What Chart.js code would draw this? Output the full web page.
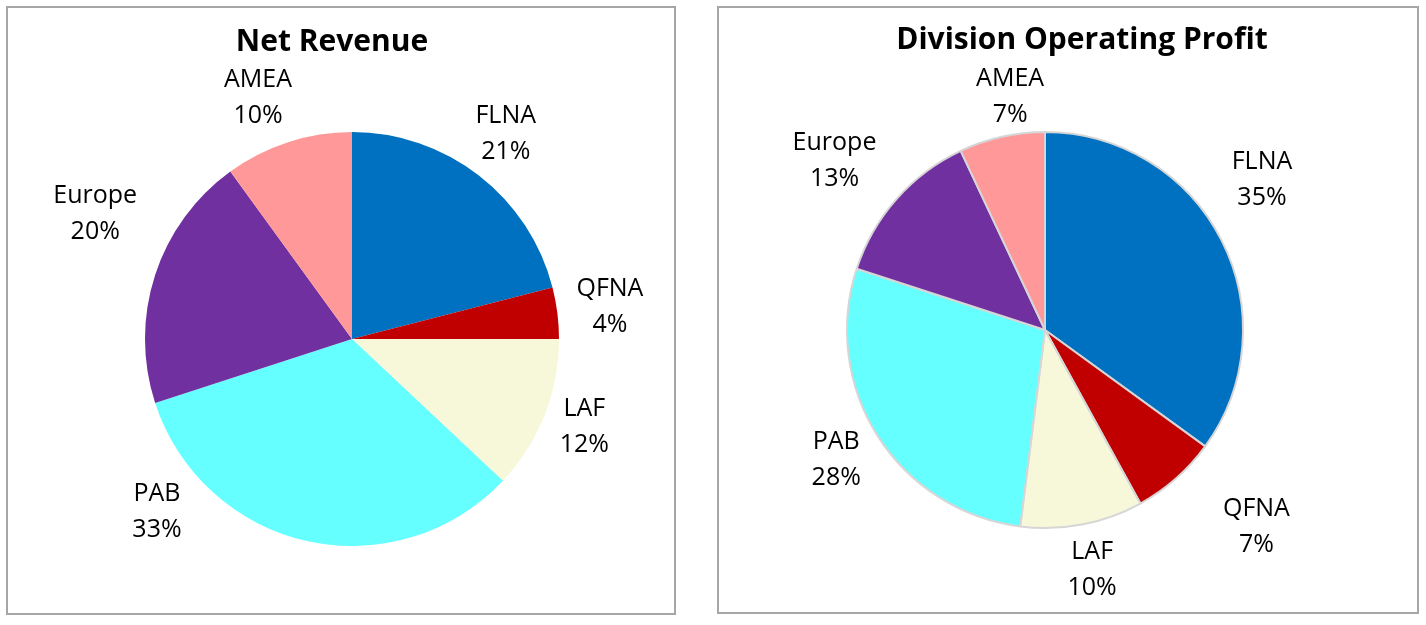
<!DOCTYPE html>
<html>
<head>
<meta charset="utf-8">
<script src="https://cdn.jsdelivr.net/npm/chart.js@4.4.1/dist/chart.umd.min.js"></script>
<style>
  body { margin: 0; background: #fff; }
  .box { position: absolute; box-sizing: border-box; border: 2px solid #a6a6a6; background: #fff; }
  #leftBox { left: 6px; top: 6px; width: 670px; height: 609px; }
  #rightBox { left: 717px; top: 6px; width: 702px; height: 608px; }
  canvas { display: block; }
</style>
</head>
<body>
<div class="box" id="leftBox"><canvas id="revChart" width="666" height="605"></canvas></div>
<div class="box" id="rightBox"><canvas id="profitChart" width="698" height="604"></canvas></div>
<script>
let divisions = ["FLNA", "QFNA", "LAF", "PAB", "Europe", "AMEA"];
let netRevenueShare = [21, 4, 12, 33, 20, 10];
let operatingProfitShare = [35, 7, 10, 28, 13, 7];

let sliceColors = ["#0070C0", "#C00000", "#F7F7DA", "#66FFFF", "#7030A0", "#FF9999"];

// labels sit outside the pie: [angle shift in degrees, distance in radii]
let outLabels = {
  id: "outLabels",
  afterDatasetsDraw(chart, args, opts) {
    let ctx = chart.ctx;
    let values = chart.data.datasets[0].data;
    let total = values.reduce((a, b) => a + b, 0);
    ctx.save();
    ctx.fillStyle = "#000";
    ctx.textAlign = "center";
    ctx.textBaseline = "middle";
    ctx.font = '25px "Open Sans"';
    chart.getDatasetMeta(0).data.forEach((arc, i) => {
      let p = arc.getProps(["x", "y", "startAngle", "endAngle", "outerRadius"], true);
      let shift = opts.place[i][0], k = opts.place[i][1];
      let a = (p.startAngle + p.endAngle) / 2 + shift * Math.PI / 180;
      let lx = p.x + Math.cos(a) * p.outerRadius * k;
      let ly = p.y + Math.sin(a) * p.outerRadius * k;
      ctx.fillText(chart.data.labels[i], lx, ly - 18);
      ctx.fillText(Math.round(values[i] / total * 100) + "%", lx, ly + 18);
    });
    ctx.font = 'bold 30px "Open Sans"';
    ctx.fillText(opts.title, chart.width * opts.titleX, opts.titleY);
    ctx.restore();
  }
};

let makePie = (id, values, conf) => {
  return new Chart(document.getElementById(id), {
    type: "pie",
    data: {
      labels: divisions,
      datasets: [{
        data: values,
        backgroundColor: sliceColors,
        borderColor: conf.borderColor,
        borderWidth: conf.borderWidth
      }]
    },
    options: {
      responsive: false,
      animation: false,
      radius: conf.radius,
      layout: { padding: conf.padding },
      plugins: {
        legend: { display: false },
        tooltip: { enabled: false },
        outLabels: conf.labels
      }
    },
    plugins: [outLabels]
  });
};

makePie("revChart", netRevenueShare, {
  radius: 207,
  borderWidth: 0,
  borderColor: "#fff",
  padding: { left: 137, top: 124, right: 115, bottom: 67 },
  labels: {
    title: "Net Revenue", titleX: 0.4865, titleY: 34,
    place: [[-1, 1.24], [0, 1.256], [-0.9, 1.2], [35.8, 1.26], [8, 1.38], [-3.3, 1.25]]
  }
});

makePie("profitChart", operatingProfitShare, {
  radius: 198,
  borderWidth: 2,
  borderColor: "#d6d6d6",
  padding: { left: 128, top: 124, right: 174, bottom: 84 },
  labels: {
    title: "Division Operating Profit", titleX: 0.52, titleY: 32,
    place: [[-7.7, 1.333], [-5.6, 1.46], [-0.3, 1.237], [0.5, 1.242], [-2.6, 1.364], [4.1, 1.192]]
  }
});
</script>
</body>
</html>
